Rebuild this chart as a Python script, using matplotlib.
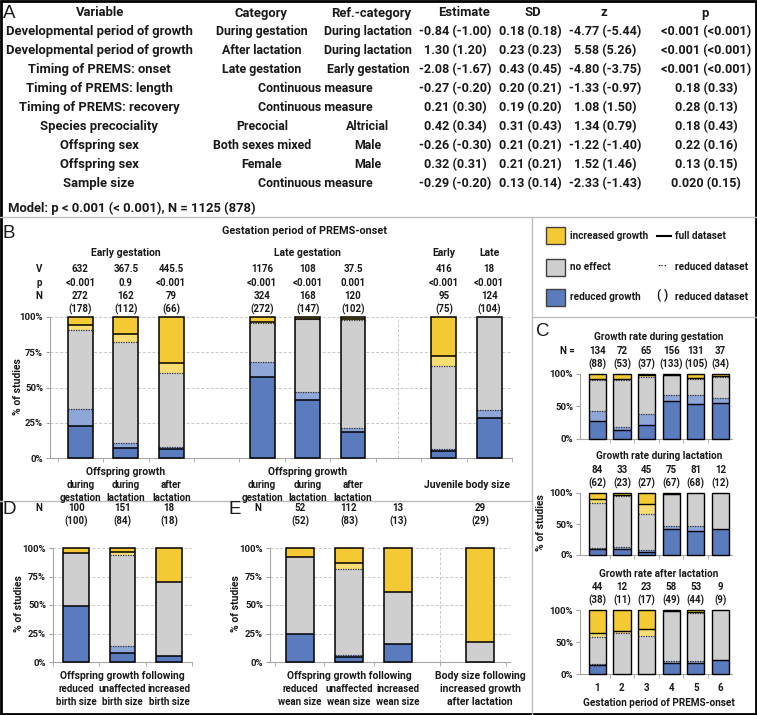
import matplotlib
matplotlib.use('Agg')
import matplotlib.pyplot as plt
import matplotlib.transforms as mtrans
from matplotlib.lines import Line2D
from matplotlib.patches import Rectangle

# ---------------- data ----------------
tab_header = ['Variable', 'Category', 'Ref.-category', 'Estimate', 'SD', 'z', 'p']
tab_variable = ['Developmental period of growth', 'Developmental period of growth',
                'Timing of PREMS: onset', 'Timing of PREMS: length', 'Timing of PREMS: recovery',
                'Species precociality', 'Offspring sex', 'Offspring sex', 'Sample size']
tab_category = ['During gestation', 'After lactation', 'Late gestation', 'Continuous measure',
                'Continuous measure', 'Precocial', 'Both sexes mixed', 'Female', 'Continuous measure']
tab_ref = ['During lactation', 'During lactation', 'Early gestation', '', '', 'Altricial',
           'Male', 'Male', '']
tab_estimate = ['-0.84 (-1.00)', '1.30 (1.20)', '-2.08 (-1.67)', '-0.27 (-0.20)', '0.21 (0.30)',
                '0.42 (0.34)', '-0.26 (-0.30)', '0.32 (0.31)', '-0.29 (-0.20)']
tab_sd = ['0.18 (0.18)', '0.23 (0.23)', '0.43 (0.45)', '0.20 (0.21)', '0.19 (0.20)',
          '0.31 (0.43)', '0.21 (0.21)', '0.21 (0.21)', '0.13 (0.14)']
tab_z = ['-4.77 (-5.44)', '5.58 (5.26)', '-4.80 (-3.75)', '-1.33 (-0.97)', '1.08 (1.50)',
         '1.34 (0.79)', '-1.22 (-1.40)', '1.52 (1.46)', '-2.33 (-1.43)']
tab_p = ['<0.001 (<0.001)', '<0.001 (<0.001)', '<0.001 (<0.001)', '0.18 (0.33)', '0.28 (0.13)',
         '0.18 (0.43)', '0.22 (0.16)', '0.13 (0.15)', '0.020 (0.15)']
model_text = 'Model: p < 0.001 (< 0.001), N = 1125 (878)'

# Panel B
b_pos = [0, 1, 2, 4, 5, 6, 8, 9]
b_V = ['632', '367.5', '445.5', '1176', '108', '37.5', '416', '18']
b_p = ['<0.001', '0.9', '<0.001', '<0.001', '<0.001', '0.001', '<0.001', '<0.001']
b_N = [272, 162, 79, 324, 168, 120, 95, 124]
b_Nred = [178, 112, 66, 272, 147, 102, 75, 104]
b_red_full = [23.0, 7.4, 6.3, 57.1, 41.1, 18.3, 5.3, 28.2]
b_red_red = [34.8, 10.7, 7.6, 68.0, 46.9, 21.6, 6.7, 33.7]
b_inc_full = [5.9, 12.3, 32.9, 3.4, 1.2, 1.7, 27.4, 0.0]
b_inc_red = [9.0, 17.9, 39.4, 4.0, 1.4, 2.0, 34.7, 0.0]
b_groups = ['Early gestation', 'Late gestation', 'Early', 'Late']
b_sub1 = ['during', 'during', 'after', 'during', 'during', 'after']
b_sub2 = ['gestation', 'lactation', 'lactation', 'gestation', 'lactation', 'lactation']

# Panel D
d_pos = [0, 1, 2]
d_N = [100, 151, 18]
d_Nred = [100, 84, 18]
d_red_full = [49.0, 7.9, 5.6]
d_red_red = [49.0, 14.3, 5.6]
d_inc_full = [4.5, 3.3, 30.0]
d_inc_red = [4.5, 6.0, 30.0]
d_sub1 = ['reduced', 'unaffected', 'increased']
d_sub2 = ['birth size', 'birth size', 'birth size']

# Panel E
e_pos = [0, 1, 2, 3.67]
e_N = [52, 112, 13, 29]
e_Nred = [52, 83, 13, 29]
e_red_full = [25.0, 4.5, 15.4, 0.0]
e_red_red = [25.0, 6.0, 15.4, 0.0]
e_inc_full = [7.7, 13.4, 38.5, 82.8]
e_inc_red = [7.7, 18.0, 38.5, 82.8]
e_sub1 = ['reduced', 'unaffected', 'increased']
e_sub2 = ['wean size', 'wean size', 'wean size']

# Panel C
c_pos = [1, 2, 3, 4, 5, 6]
c_titles = ['Growth rate during gestation', 'Growth rate during lactation', 'Growth rate after lactation']
c_N = [[134, 72, 65, 156, 131, 37], [84, 33, 45, 75, 81, 12], [44, 12, 23, 58, 53, 9]]
c_Nred = [[88, 53, 37, 133, 105, 34], [62, 23, 27, 67, 68, 12], [38, 11, 17, 49, 44, 9]]
c_red_full = [[28, 14, 21, 59, 54, 56], [9, 9.1, 4.4, 41.3, 39.5, 41.7], [13.6, 0, 0, 17.2, 17.0, 22.2]]
c_red_red = [[43, 19, 38, 68, 67, 63], [12, 13, 7.4, 46.3, 47.0, 41.7], [15.8, 0, 0, 20.4, 20.5, 22.2]]
c_inc_full = [[7, 7, 2, 1.5, 6, 3], [10.3, 3.0, 17.8, 1.3, 0, 0], [36.4, 33.3, 30.4, 1.7, 3.8, 0]]
c_inc_red = [[10, 10, 5, 2, 7, 4.5], [16.3, 4.3, 33.3, 1.5, 0, 0], [42.1, 36.4, 41.2, 2.0, 4.5, 0]]

# ---------------- style ----------------
plt.rcParams['font.family'] = ['Roboto', 'DejaVu Sans']
YEL = '#F3C934'
LYEL = '#F8DE72'
GRAY = '#CFCFCF'
BLUE = '#5A7BBE'
LBLUE = '#8EA7D8'
SEP = '#BDBDBD'
TXT = '#1a1a1a'
FS = 7.5      # word labels
SS = 7.0      # sub labels under bars
NS = 7.0      # numbers
CS = 7.2      # panel C / legend
TKS = 6.8     # tick labels
TSV = 9.4     # table: variable column
TSC = 8.9     # table: category columns
TSN = 9.1     # table: numbers

W, H = 757, 715
fig = plt.figure(figsize=(W / 100, H / 100), dpi=100)
fig.patch.set_facecolor('white')


def fx(x):
    return x / W


def fy(y):
    return 1 - y / H


def T(x, y, s, size=FS, ha='center', va='center', weight='bold', **kw):
    return fig.text(fx(x), fy(y), s, fontsize=size, ha=ha, va=va, fontweight=weight,
                    color=kw.pop('color', TXT), **kw)


def ax_at(l, r, t, b):
    return fig.add_axes([fx(l), fy(b), (r - l) / W, (b - t) / H])


def hline_fig(x0, x1, y, **kw):
    fig.add_artist(Line2D([fx(x0), fx(x1)], [fy(y), fy(y)], transform=fig.transFigure, **kw))


def vline_fig(x, y0, y1, **kw):
    fig.add_artist(Line2D([fx(x), fx(x)], [fy(y0), fy(y1)], transform=fig.transFigure, **kw))


def draw_stack(ax, x, w, red_f, red_r, inc_f, inc_r, lw=1.1):
    lo_b, hi_b = sorted([red_f, red_r])
    tf, tr = 100 - inc_f, 100 - inc_r
    lo_t, hi_t = sorted([tf, tr])
    segs = [(0, lo_b, BLUE), (lo_b, hi_b, LBLUE), (hi_b, lo_t, GRAY), (lo_t, hi_t, LYEL), (hi_t, 100, YEL)]
    for a, b, c in segs:
        if b > a:
            ax.bar(x, b - a, bottom=a, width=w, color=c, edgecolor='none', zorder=3, clip_on=False)
    for v, vf in [(red_r, red_f), (tr, tf)]:
        if 0 < v < 100 and abs(v - vf) > 0.01:
            ax.hlines(v, x - w / 2, x + w / 2, colors='#333333', lw=0.9, linestyles=(0, (1, 1)), zorder=4)
    for v in [red_f, tf]:
        if 0 < v < 100:
            ax.hlines(v, x - w / 2, x + w / 2, colors='black', lw=lw, zorder=5)
    ax.bar(x, 100, width=w, fill=False, edgecolor='black', lw=lw, zorder=6, clip_on=False)


def style_axes(ax, yticks, ylabels, xlim, minor, grid=True):
    ax.set_xlim(*xlim)
    ax.set_ylim(0, 100)
    ax.set_yticks(yticks)
    ax.set_yticklabels(ylabels, fontsize=TKS, fontweight='bold', color=TXT)
    ax.set_xticks([])
    ax.set_xticks(minor, minor=True)
    ax.tick_params(axis='x', which='minor', length=3, color='#A6A6A6', labelbottom=False)
    ax.tick_params(axis='y', length=3, color='#A6A6A6', pad=2)
    for s in ['top', 'right']:
        ax.spines[s].set_visible(False)
    for s in ['left', 'bottom']:
        ax.spines[s].set_color('#A6A6A6')
        ax.spines[s].set_linewidth(0.8)
    ax.patch.set_alpha(0)
    if grid:
        for yv in yticks[1:]:
            ax.axhline(yv, color='#C8C8C8', lw=0.7, ls=(0, (3, 2)), zorder=1)


# ---------------- Panel A: table ----------------
col_x = [99, 262, 368, 455, 530, 605, 706]
head_x = [100, 261, 371, 464, 533, 604, 705]
row0 = 13
dy = 18.9
for cx, h in zip(head_x, tab_header):
    T(cx, row0, h, size=TSV)
for i in range(len(tab_variable)):
    y = row0 + dy * (i + 1)
    T(col_x[0], y, tab_variable[i], size=TSV)
    if tab_ref[i] == '':
        T((col_x[1] + col_x[2]) / 2, y, tab_category[i], size=TSC)
    else:
        T(col_x[1], y, tab_category[i], size=TSC)
        T(col_x[2], y, tab_ref[i], size=TSC)
    T(col_x[3], y, tab_estimate[i], size=TSN)
    T(col_x[4], y, tab_sd[i], size=TSN)
    T(col_x[5], y, tab_z[i], size=TSN)
    T(col_x[6], y, tab_p[i], size=TSN)
T(8, 208, model_text, size=TSV, ha='left')

# ---------------- separators ----------------
hline_fig(0, W, 217, color=SEP, lw=1)
vline_fig(532, 217, H, color=SEP, lw=1)
hline_fig(532, W, 317, color=SEP, lw=1)
hline_fig(0, 532, 501, color=SEP, lw=1)
fig.add_artist(Rectangle((0.0015, 0.0015), 0.997, 0.997, transform=fig.transFigure,
                         fill=False, ec='black', lw=2))

# panel letters
for lx, ly, L in [(3, 13, 'A'), (3, 233, 'B'), (536, 331, 'C'), (3, 509, 'D'), (228, 509, 'E')]:
    T(lx, ly, L, size=13.5, ha='left', weight='normal', family='Liberation Sans')

# ---------------- Legend ----------------
leg_items = [(YEL, 'increased growth', 236), (GRAY, 'no effect', 267), (BLUE, 'reduced growth', 297)]
for c, lab, y in leg_items:
    fig.add_artist(Rectangle((fx(546), fy(y + 8.5)), 19 / W, 17 / H, transform=fig.transFigure,
                             fc=c, ec='#404040', lw=1))
    T(570, y, lab, ha='left', size=CS)
hline_fig(657, 671, 236, color='black', lw=1.5)
T(675, 236, 'full dataset', ha='left', size=CS)
T(662, 266, '···', size=8)
T(675, 267, 'reduced dataset', ha='left', size=CS)
T(663, 296, '( )', size=8.5)
T(675, 297, 'reduced dataset', ha='left', size=CS)

# ---------------- Panel B ----------------
axB = ax_at(50, 512, 317, 458)
style_axes(axB, [0, 25, 50, 75, 100], ['0%', '25%', '50%', '75%', '100%'], (-0.67, 9.49),
           [k + 0.5 for k in range(-1, 10)])
axB.axvline(7, color='#C8C8C8', lw=0.7, ls=(0, (3, 2)), zorder=1)
for k, x in enumerate(b_pos):
    draw_stack(axB, x, 0.55, b_red_full[k], b_red_red[k], b_inc_full[k], b_inc_red[k])
trB = mtrans.blended_transform_factory(axB.transData, fig.transFigure)


def TB(tr, x, y, s, size=FS):
    fig.text(x, fy(y), s, transform=tr, ha='center', va='center', fontsize=size,
             fontweight='bold', color=TXT)


T(305, 231, 'Gestation period of PREMS-onset', size=7.8)
TB(trB, sum(b_pos[0:3]) / 3, 253, b_groups[0])
TB(trB, sum(b_pos[3:6]) / 3, 253, b_groups[1])
TB(trB, b_pos[6], 253, b_groups[2])
TB(trB, b_pos[7], 253, b_groups[3])
for lab, y in [('V', 269), ('p', 283), ('N', 296)]:
    T(39, y, lab, size=NS)
for k, x in enumerate(b_pos):
    TB(trB, x, 269, b_V[k], NS)
    TB(trB, x, 283, b_p[k], NS)
    TB(trB, x, 296, str(b_N[k]), NS)
    TB(trB, x, 309, '(%d)' % b_Nred[k], NS)
T(18, 387, '% of studies', rotation=90)
TB(trB, b_pos[1], 472, 'Offspring growth')
TB(trB, b_pos[4], 472, 'Offspring growth')
for k in range(6):
    TB(trB, b_pos[k], 485, b_sub1[k], SS)
    TB(trB, b_pos[k], 498, b_sub2[k], SS)
TB(trB, (b_pos[6] + b_pos[7]) / 2, 485, 'Juvenile body size')

# ---------------- Panel D ----------------
axD = ax_at(53, 192, 548, 662)
style_axes(axD, [0, 25, 50, 75, 100], ['0%', '25%', '50%', '75%', '100%'], (-0.5, 2.5),
           [-0.5, 0.5, 1.5, 2.5])
for k, x in enumerate(d_pos):
    draw_stack(axD, x, 0.56, d_red_full[k], d_red_red[k], d_inc_full[k], d_inc_red[k])
trD = mtrans.blended_transform_factory(axD.transData, fig.transFigure)
T(39, 508, 'N', size=NS)
for k, x in enumerate(d_pos):
    TB(trD, x, 508, str(d_N[k]), NS)
    TB(trD, x, 521, '(%d)' % d_Nred[k], NS)
    TB(trD, x, 689, d_sub1[k], SS)
    TB(trD, x, 702, d_sub2[k], SS)
TB(trD, d_pos[1], 676, 'Offspring growth following')
T(19, 604, '% of studies', rotation=90)

# ---------------- Panel E ----------------
axE = ax_at(270, 510, 548, 662)
style_axes(axE, [0, 25, 50, 75, 100], ['0%', '25%', '50%', '75%', '100%'], (-0.61, 4.28),
           [-0.5, 0.5, 1.5, 2.86, 4.2])
axE.axvline(2.86, color='#C8C8C8', lw=0.7, ls=(0, (3, 2)), zorder=1)
for k, x in enumerate(e_pos):
    draw_stack(axE, x, 0.56, e_red_full[k], e_red_red[k], e_inc_full[k], e_inc_red[k])
trE = mtrans.blended_transform_factory(axE.transData, fig.transFigure)
T(258, 508, 'N', size=NS)
for k, x in enumerate(e_pos):
    TB(trE, x, 508, str(e_N[k]), NS)
    TB(trE, x, 521, '(%d)' % e_Nred[k], NS)
for k in range(3):
    TB(trE, e_pos[k], 689, e_sub1[k], SS)
    TB(trE, e_pos[k], 702, e_sub2[k], SS)
TB(trE, e_pos[1], 676, 'Offspring growth following')
TB(trE, e_pos[3], 676, 'Body size following')
TB(trE, e_pos[3], 689, 'increased growth')
TB(trE, e_pos[3], 702, 'after lactation')
T(236, 604, '% of studies', rotation=90)

# ---------------- Panel C ----------------
c_boxes = [(374, 439), (493, 555), (610, 674)]
c_title_y = [337, 456, 574]
c_n_y = [351, 470, 587]
for j in range(3):
    t, b = c_boxes[j]
    ax = ax_at(580, 732, t, b)
    style_axes(ax, [0, 50, 100], ['0%', '50%', '100%'], (0.3, 6.47),
               [k + 0.5 for k in range(1, 6)], grid=False)
    for k, x in enumerate(c_pos):
        draw_stack(ax, x, 0.7, c_red_full[j][k], c_red_red[j][k], c_inc_full[j][k], c_inc_red[j][k],
                   lw=1.0)
    tr = mtrans.blended_transform_factory(ax.transData, fig.transFigure)
    TB(tr, (c_pos[0] + c_pos[-1]) / 2, c_title_y[j], c_titles[j], CS)
    for k, x in enumerate(c_pos):
        TB(tr, x, c_n_y[j], str(c_N[j][k]), NS)
        TB(tr, x, c_n_y[j] + 13, '(%d)' % c_Nred[j][k], NS)
    if j == 0:
        T(567, c_n_y[j], 'N =', size=NS)
    if j == 2:
        for k, x in enumerate(c_pos):
            TB(tr, x, 688, str(x), NS)
        TB(tr, (c_pos[0] + c_pos[-1]) / 2, 703, 'Gestation period of PREMS-onset', CS)
T(541, 523, '% of studies', rotation=90)

fig.savefig('out.png', dpi=100, facecolor='white')
